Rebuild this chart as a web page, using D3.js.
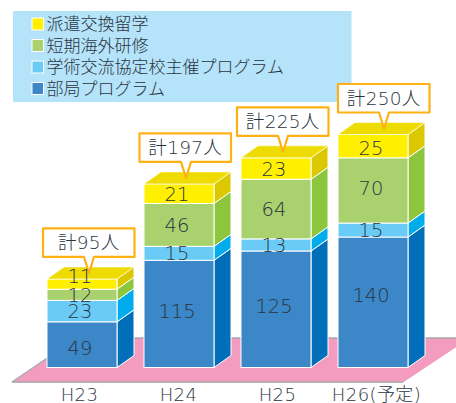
<!DOCTYPE html>
<html><head><meta charset="utf-8">
<script src="https://cdn.jsdelivr.net/npm/d3@7"></script>
<style>html,body{margin:0;padding:0;background:#fff}svg{display:block}</style>
</head><body><svg id="c" width="456" height="403"></svg>
<script>
const years = ["H23","H24","H25","H26(予定)"];
const seriesNames = ["部局プログラム","学術交流協定校主催プログラム","短期海外研修","派遣交換留学"];
const bukyoku = [49,115,125,140];
const kyotei = [23,15,13,15];
const tanki = [12,46,64,70];
const haken = [11,21,23,25];
const totals = [95,197,225,250];
const frontColors = ["#3b87c7","#6accf6","#a9d26f","#fff000"];
const sideColors = ["#006eb9","#00acec","#8cc63d","#dcc800"];
const topColor = "#eedc00";
const valueSeries = [bukyoku,kyotei,tanki,haken];

const svg = d3.select("#c");
const ink = "#2a3440";
const jp = "'Noto Sans CJK JP'";
const lat = "'DejaVu Sans'";

const xs = d3.scaleLinear().domain([0,3]).range([47,338]);
const barW = 70, dx = 17, dy = 12;
const y = d3.scaleLinear().domain([0,250]).range([367.5,134.5]);

// small hand adjustments of label placement seen in the picture
const labelShift = {"0-3":-8,"0-0":3,"1-0":-3,"2-0":-3,"3-0":-7,"3-2":-2,"3-3":2};
const boxShift = [0,-0.5,0,4];
const tipShift = [0,0,0,4];

// floor
svg.append("path").attr("d","M12,382.5L77,338H470L403,382.5Z").attr("fill","#f49bc0");
svg.append("path").attr("d","M12,382L77,338H456").attr("fill","none").attr("stroke","#a8a8a8").attr("stroke-width",1.4);
svg.append("path").attr("d","M12,382H403").attr("fill","none").attr("stroke","#a8a8a8").attr("stroke-width",1.4);

// legend
svg.append("rect").attr("x",13).attr("y",11).attr("width",338.5).attr("height",91).attr("fill","#b5e3f9");
const legendOrder = [3,2,1,0];
const legendY = d3.scalePoint().domain(legendOrder).range([24,88.5]);
const lg = svg.selectAll("g.lg").data(legendOrder).join("g").attr("transform",d=>`translate(0,${legendY(d)})`);
lg.append("rect").attr("x",32).attr("y",-6).attr("width",11.5).attr("height",12)
  .attr("fill",d=>frontColors[d]).attr("stroke","#fff").attr("stroke-width",1);
lg.append("text").attr("x",46.5).attr("y",6).attr("font-family",jp).attr("font-weight",300).attr("font-size",17)
  .attr("fill",ink).text(d=>seriesNames[d]);

// bars
years.forEach((yr,i)=>{
  const x0 = xs(i), x1 = x0+barW;
  let cum = 0;
  const g = svg.append("g");
  valueSeries.forEach((vals,s)=>{
    const v = vals[i];
    const yb = y(cum), yt = y(cum+v);
    g.append("path").attr("d",`M${x1},${yb}L${x1+dx},${yb-dy}V${yt-dy}L${x1},${yt}Z`)
      .attr("fill",sideColors[s]).attr("stroke","#fff").attr("stroke-width",1);
    g.append("rect").attr("x",x0).attr("y",yt).attr("width",barW).attr("height",yb-yt)
      .attr("fill",frontColors[s]).attr("stroke","#fff").attr("stroke-width",1);
    if(s===3){
      g.append("path").attr("d",`M${x0},${yt}L${x0+dx},${yt-dy}H${x1+dx}L${x1},${yt}Z`)
        .attr("fill",topColor).attr("stroke","#fff").attr("stroke-width",0.6);
    }
    cum += v;
  });
  // callout
  const top = y(totals[i])-dy;
  const bx0 = x0-4+boxShift[i], bx1 = bx0+91.5, by1 = top-10, by0 = by1-28.5, tip = x0+42+tipShift[i];
  g.append("path").attr("d",`M${bx0},${by0}H${bx1}V${by1}H${tip+5}L${tip},${top+6}L${tip-5},${by1}H${bx0}Z`)
    .attr("fill","#fff").attr("stroke","#fdb115").attr("stroke-width",2.2).attr("stroke-linejoin","round");
  g.append("text").attr("x",(bx0+bx1)/2).attr("y",(by0+by1)/2).attr("dy","0.36em").attr("text-anchor","middle")
    .attr("font-size",18.5).attr("letter-spacing",0.3).attr("font-family",lat+","+jp).attr("font-weight",200).attr("fill",ink)
    .text("計"+totals[i]+"人");
  // value labels
  cum = 0;
  valueSeries.forEach((vals,s)=>{
    const v = vals[i];
    const nudge = labelShift[i+"-"+s] || 0;
    g.append("text").attr("x",x0+33).attr("y",(y(cum)+y(cum+v))/2+nudge).attr("dy","0.36em")
      .attr("text-anchor","middle").attr("font-family",lat).attr("font-weight",200).attr("font-size",19.5)
      .attr("fill",ink).text(v);
    cum += v;
  });
});

// axis
const axisScale = d3.scalePoint().domain(years).range([79,376]);
const ax = svg.append("g").attr("transform","translate(0,395)").call(d3.axisBottom(axisScale).tickSize(0));
ax.select(".domain").remove();
ax.selectAll("text").attr("y",0).attr("dy","0.36em").attr("font-family",lat+","+jp).attr("font-weight",200)
  .attr("font-size",18).attr("letter-spacing",0.4).attr("fill",ink);
</script></body></html>
